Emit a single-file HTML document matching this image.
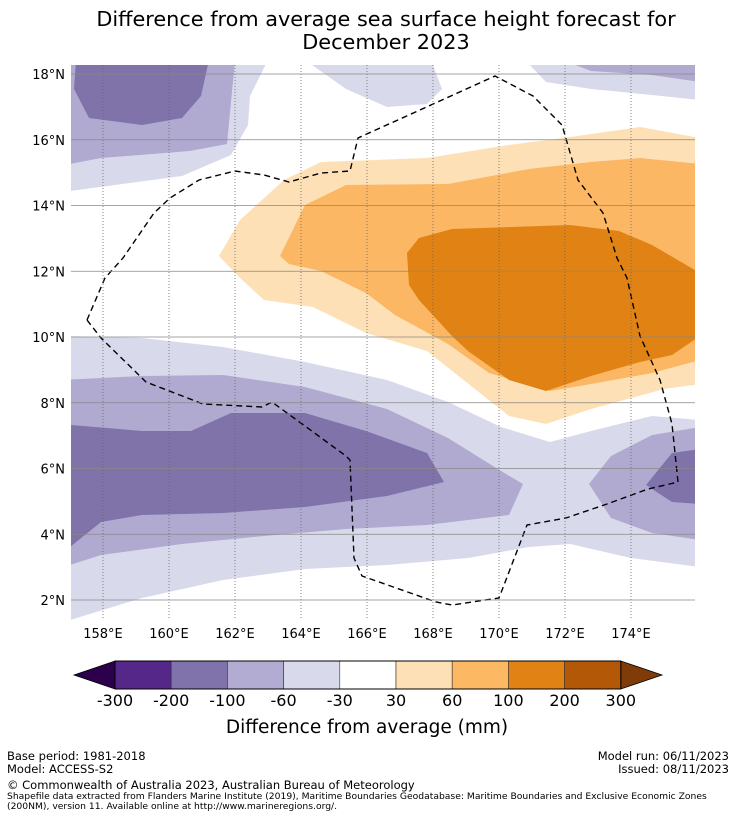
<!DOCTYPE html>
<html><head><meta charset="utf-8"><style>
body{margin:0;background:#fff;width:736px;height:816px;overflow:hidden;font-family:"DejaVu Sans","Liberation Sans",sans-serif;}
svg text{font-family:"DejaVu Sans","Liberation Sans",sans-serif;}
</style></head><body>
<svg id="chart" width="736" height="816" xmlns="http://www.w3.org/2000/svg">
<text x="386" y="26" font-size="20.8" text-anchor="middle">Difference from average sea surface height forecast for</text>
<text x="386" y="49" font-size="20.8" text-anchor="middle">December 2023</text>
<defs><clipPath id="mapclip"><rect x="71" y="65" width="624" height="555"/></clipPath></defs>
<g id="map" clip-path="url(#mapclip)"></g>
<g id="grid"></g>
<g id="axes"></g>
<g id="cbar"></g>
<text x="367" y="733" font-size="18.5" text-anchor="middle">Difference from average (mm)</text>
<text x="7" y="760" font-size="11.5">Base period: 1981-2018</text>
<text x="7" y="773" font-size="11.5">Model: ACCESS-S2</text>
<text x="729" y="760" font-size="11.5" text-anchor="end">Model run: 06/11/2023</text>
<text x="729" y="773" font-size="11.5" text-anchor="end">Issued: 08/11/2023</text>
<text x="7" y="789" font-size="11.5">© Commonwealth of Australia 2023, Australian Bureau of Meteorology</text>
<text x="7" y="799" font-size="9.2">Shapefile data extracted from Flanders Marine Institute (2019), Maritime Boundaries Geodatabase: Maritime Boundaries and Exclusive Economic Zones</text>
<text x="7" y="809" font-size="9.2">(200NM), version 11. Available online at http://www.marineregions.org/.</text>
</svg>
<script>
// ---- data (pixel-estimated contours expressed as [lon,lat]) ----
const lonTicks=[158,160,162,164,166,168,170,172,174];
const latTicks=[2,4,6,8,10,12,14,16,18];
const levels=[-300,-200,-100,-60,-30,30,60,100,200,300];
const levelColors=["#542788","#8073ac","#b2abd2","#d8daeb","#ffffff","#fee0b6","#fdb863","#e08214","#b35806"];
const extColors=["#2d004b","#7f3b08"];
const mapColors={"-60":"#d8daeb","-100":"#b0aad0","-200":"#7f73aa","30":"#fde0b6","60":"#fbb763","100":"#e08214"};
function P(px){return px.map(p=>[158+(p[0]-103)/33,18-(p[1]-74)/32.875]);}
const contourTL_light=P([[60,60],[268,60],[250,96],[248,125],[231,155],[182,176],[70,191],[60,192]]);
const contourTL_mid=P([[60,60],[235,60],[227,144],[190,151],[101,158],[70,164],[60,165]]);
const contourTL_dark=P([[76,60],[74,89],[89,118],[142,125],[182,118],[201,96],[209,60]]);
const contourTM_light=P([[305,60],[346,89],[387,107],[427,104],[442,89],[431,60]]);
const contourTR_light=P([[525,60],[546,82],[591,89],[652,95],[700,100],[700,60]]);
const contourTR_mid=P([[562,60],[591,71],[652,75],[700,82],[700,60]]);
const contourO_light=P([[219,256],[240,220],[284,180],[321,162],[427,158],[509,145],[570,137],[640,127],[700,138],[700,384],[664,389],[591,409],[546,424],[509,416],[427,351],[366,333],[313,307],[264,300],[240,278]]);
const contourO_mid=P([[280,256],[305,205],[346,185],[448,184],[529,169],[591,162],[640,158],[700,164],[700,360],[652,373],[591,384],[550,391],[489,373],[448,344],[395,315],[366,293],[321,271],[289,264]]);
const contourO_dark=P([[407,253],[419,238],[452,229],[570,225],[619,231],[652,245],[700,273],[700,336],[672,355],[640,362],[591,376],[546,391],[509,380],[468,351],[452,336],[419,300],[409,285]]);
const contourB_light=P([[60,336],[142,338],[223,347],[305,362],[387,380],[448,402],[501,427],[550,442],[591,431],[652,416],[700,420],[700,567],[631,558],[570,544],[529,547],[468,558],[387,565],[305,569],[223,580],[142,598],[70,620],[60,625]]);
const contourB_mid=P([[60,380],[142,376],[223,375],[305,387],[387,409],[448,438],[501,471],[523,484],[509,515],[427,525],[346,529],[264,536],[182,544],[101,555],[70,565],[60,568]]);
const contourBR_mid=P([[700,427],[652,435],[611,456],[589,484],[611,518],[652,533],[700,540]]);
const contourB_dark=P([[60,424],[142,431],[191,431],[231,413],[305,413],[366,431],[427,453],[444,482],[387,496],[305,507],[223,513],[142,515],[101,522],[70,547],[60,550]]);
const contourBR_dark=P([[700,449],[672,453],[646,485],[672,502],[700,504]]);
const eezLine=P([[87,320],[105,278],[123,258],[154,213],[170,198],[199,180],[235,171],[264,175],[289,182],[321,173],[350,171],[358,138],[495,76],[533,96],[562,125],[578,180],[603,213],[617,258],[627,278],[640,336],[660,380],[672,424],[678,482],[648,489],[607,504],[566,518],[527,525],[499,598],[452,605],[436,602],[362,576],[354,558],[350,460],[346,456],[272,402],[262,407],[203,404],[146,382],[101,338],[87,320]]);
// ---- axes ----
const X=lon=>103+(lon-158)*33;
const Y=lat=>74+(18-lat)*32.875;
const NS="http://www.w3.org/2000/svg";
function mk(tag,attrs,parent){const e=document.createElementNS(NS,tag);for(const k in attrs)e.setAttribute(k,attrs[k]);parent.appendChild(e);return e;}
const map=document.getElementById('map');
const bg=mk('rect',{x:71,y:65,width:624,height:555,fill:'#fff'},map);


function poly(pts,level,name){const d=pts.map(p=>X(p[0]).toFixed(1)+','+Y(p[1]).toFixed(1)).join(' ');const e=mk('polygon',{points:d,fill:mapColors[level]},map);

}
poly(contourTL_light,"-60","contour-tl-light");poly(contourTL_mid,"-100","contour-tl-mid");poly(contourTL_dark,"-200","contour-tl-dark");
poly(contourTM_light,"-60","contour-tm-light");poly(contourTR_light,"-60","contour-tr-light");poly(contourTR_mid,"-100","contour-tr-mid");
poly(contourB_light,"-60","contour-b-light");poly(contourB_mid,"-100","contour-b-mid");poly(contourBR_mid,"-100","contour-br-mid");
poly(contourB_dark,"-200","contour-b-dark");poly(contourBR_dark,"-200","contour-br-dark");
poly(contourO_light,"30","contour-orange-light");poly(contourO_mid,"60","contour-orange-mid");poly(contourO_dark,"100","contour-orange-dark");
const eez=mk('polyline',{points:eezLine.map(p=>X(p[0]).toFixed(1)+','+Y(p[1]).toFixed(1)).join(' '),fill:'none',stroke:'#000','stroke-width':1.4,'stroke-dasharray':'6,4'},map);


const grid=document.getElementById('grid'),axes=document.getElementById('axes');
lonTicks.forEach(l=>{const g=mk('line',{x1:X(l),x2:X(l),y1:65,y2:620,stroke:'#666','stroke-width':0.8,'stroke-dasharray':'1,2'},grid);


const t=mk('text',{x:X(l),y:638,'font-size':13,'text-anchor':'middle'},axes);t.textContent=l+'°E';

});
latTicks.forEach(l=>{const g=mk('line',{x1:71,x2:695,y1:Y(l),y2:Y(l),stroke:'#888','stroke-width':0.7},grid);


const t=mk('text',{x:65,y:Y(l)+5,'font-size':13,'text-anchor':'end'},axes);t.textContent=l+'°N';

});
// ---- colorbar ----
const cb=document.getElementById('cbar');const cx0=115,cw=56.2,cy=661,ch=28;
const lt=mk('polygon',{points:`${cx0},${cy} ${cx0},${cy+ch} 74,${cy+ch/2}`,fill:extColors[0],stroke:'#000','stroke-width':0.8},cb);


const xe=cx0+cw*levelColors.length;
const rt=mk('polygon',{points:`${xe},${cy} ${xe},${cy+ch} 662,${cy+ch/2}`,fill:extColors[1],stroke:'#000','stroke-width':0.8},cb);


levelColors.forEach((c,i)=>{const r=mk('rect',{x:cx0+i*cw,y:cy,width:cw,height:ch,fill:c,stroke:'#333','stroke-width':0.6},cb);

});
mk('rect',{x:cx0,y:cy,width:cw*levelColors.length,height:ch,fill:'none',stroke:'#000','stroke-width':1},cb);
levels.forEach((v,i)=>{const t=mk('text',{x:cx0+i*cw,y:706,'font-size':16,'text-anchor':'middle'},cb);t.textContent=v;

});
</script>
</body></html>
